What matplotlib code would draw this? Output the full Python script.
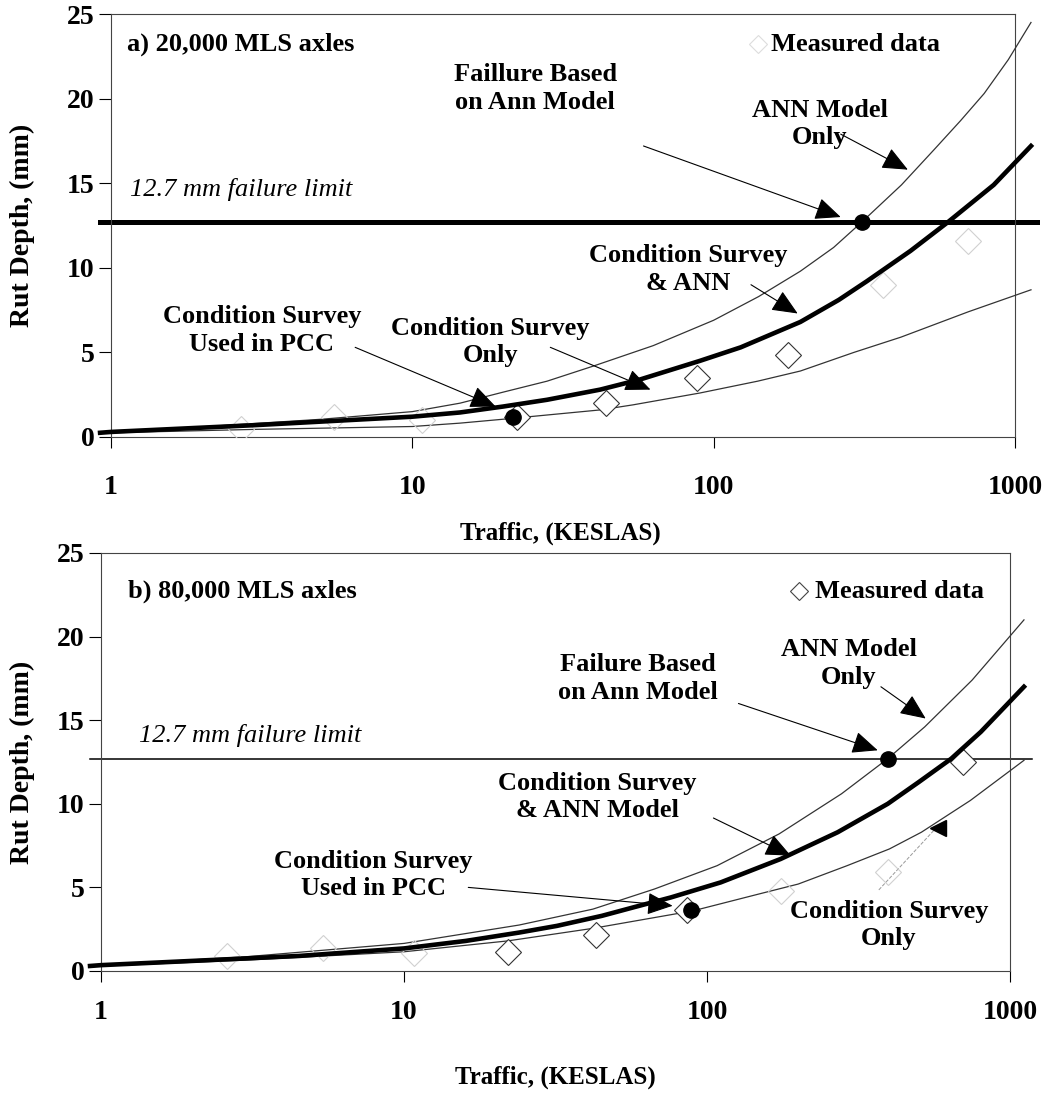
import numpy as np
from matplotlib import pyplot as plt

plt.rcParams['font.family'] = ['Liberation Serif', 'DejaVu Serif']
plt.rcParams['font.weight'] = 'bold'

ticks_x = [1, 10, 100, 1000]
ticks_y = [0, 5, 10, 15, 20, 25]
limit = 12.7

# ---- a) 20,000 MLS axles ----
a_ann_x = [0.92, 1, 2, 5, 10, 14.4, 20, 28, 40, 63, 100, 141, 194, 250, 310, 420, 540, 660, 790, 950, 1130]
a_ann_y = [0.28, 0.33, 0.6, 1.05, 1.5, 2.0, 2.65, 3.3, 4.2, 5.4, 6.9, 8.3, 9.8, 11.2, 12.7, 14.9, 17.0, 18.7, 20.3, 22.3, 24.5]
a_both_x = [0.92, 1, 3, 10, 14.4, 20, 28, 42, 57, 90, 123, 194, 260, 322, 450, 599, 850, 1130]
a_both_y = [0.25, 0.3, 0.7, 1.2, 1.45, 1.8, 2.2, 2.8, 3.4, 4.5, 5.3, 6.8, 8.1, 9.2, 11.0, 12.7, 14.9, 17.2]
a_cs_x = [0.92, 1, 3, 10, 14.4, 20, 28, 42, 54, 90, 140, 194, 292, 418, 700, 1130]
a_cs_y = [0.22, 0.25, 0.45, 0.62, 0.82, 1.05, 1.3, 1.6, 1.9, 2.6, 3.3, 3.9, 5.0, 5.9, 7.4, 8.7]
a_meas_x = [22.3, 44, 88, 176]
a_meas_y = [1.2, 2.0, 3.5, 4.85]
a_faint_x = [2.7, 5.5, 10.8, 365, 700]
a_faint_y = [0.5, 1.2, 1.0, 9.0, 11.6]
a_dots_x = [21.6, 310]
a_dots_y = [1.2, 12.7]

# ---- b) 80,000 MLS axles ----
b_ann_x = [0.92, 1, 3, 10, 24, 42, 67, 108, 173, 278, 395, 523, 750, 1112]
b_ann_y = [0.3, 0.35, 0.85, 1.65, 2.75, 3.7, 4.9, 6.3, 8.2, 10.6, 12.7, 14.6, 17.4, 21.0]
b_both_x = [0.92, 1, 4.5, 10, 16, 24, 32, 45, 57, 76, 111, 175, 270, 395, 500, 640, 801, 1112]
b_both_y = [0.3, 0.35, 0.9, 1.35, 1.8, 2.3, 2.7, 3.3, 3.8, 4.4, 5.3, 6.7, 8.3, 10.0, 11.3, 12.7, 14.3, 17.0]
b_cs_x = [0.92, 1, 3, 10, 22, 42, 90, 148, 200, 290, 400, 510, 740, 1112]
b_cs_y = [0.25, 0.3, 0.65, 1.15, 1.8, 2.55, 3.6, 4.6, 5.2, 6.3, 7.3, 8.3, 10.2, 12.6]
b_meas_x = [22, 43, 86, 700]
b_meas_y = [1.15, 2.15, 3.65, 12.5]
b_faint_x = [2.6, 5.4, 10.8, 175, 395]
b_faint_y = [0.9, 1.4, 1.1, 4.8, 5.9]
b_dots_x = [88.3, 395]
b_dots_y = [3.65, 12.7]

# labels: text, centre (x, y), arrow start, arrow tip
a_notes = [
    ("Faillure Based\non Ann Model", (25.6, 20.6), (58.5, 17.2), (264, 13.0)),
    ("ANN Model\nOnly", (225, 18.5), (264, 17.9), (441, 15.8)),
    ("Condition Survey\n& ANN", (82.6, 9.9), (133, 9.0), (190, 7.3)),
    ("Condition Survey\nOnly", (18.2, 5.6), (28.7, 5.3), (61.7, 2.8)),
    ("Condition Survey\nUsed in PCC", (3.17, 6.3), (6.46, 5.3), (18.9, 1.8)),
]
b_notes = [
    ("Failure Based\non Ann Model", (59, 17.5), (127, 16.0), (366, 13.2)),
    ("ANN Model\nOnly", (294, 18.4), (375, 17.0), (527, 15.1)),
    ("Condition Survey\n& ANN Model", (43.5, 10.4), (105, 9.15), (189, 6.9)),
    ("Condition Survey\nUsed in PCC", (7.92, 5.75), (16.3, 5.0), (77, 3.9)),
]
b_cs_note = ("Condition Survey\nOnly", (398, 2.75), (369, 4.85), (560, 8.4))

W, H = 1046, 1099
fig = plt.figure(figsize=(W / 100, H / 100), dpi=100)
ax1 = fig.add_axes([111 / W, 1 - 437 / H, 904 / W, 423 / H])
ax2 = fig.add_axes([101 / W, 1 - 971 / H, 909 / W, 418 / H])

FS = 18
arrow = dict(arrowstyle='-|>,head_length=0.8,head_width=0.35', lw=0.8,
             color='black', mutation_scale=20, shrinkA=0, shrinkB=0)


def setup(ax, limit_lw, tick_pad):
    ax.set_xscale('log')
    ax.set_xlim(1, 1000)
    ax.set_ylim(0, 25)
    ax.set_xticks(ticks_x)
    ax.set_xticklabels([str(t) for t in ticks_x])
    ax.set_yticks(ticks_y)
    ax.minorticks_off()
    ax.tick_params(axis='y', direction='out', length=9, width=0.8, pad=3, labelsize=FS + 2)
    ax.tick_params(axis='x', direction='out', length=8, width=0.8, pad=tick_pad, labelsize=FS + 2)
    for s in ax.spines.values():
        s.set_linewidth(0.8)
        s.set_color('#444444')
    ax.plot([0.92, 1180], [limit, limit], color='black', lw=limit_lw, clip_on=False, zorder=2)


def curves(ax, ann_x, ann_y, both_x, both_y, cs_x, cs_y):
    ax.plot(ann_x, ann_y, color='#333333', lw=0.9, clip_on=False, zorder=3)
    ax.plot(cs_x, cs_y, color='#333333', lw=0.9, clip_on=False, zorder=3)
    ax.plot(both_x, both_y, color='black', lw=3.3, clip_on=False, zorder=4,
            solid_joinstyle='round')


def markers(ax, mx, my, fx, fy, dx, dy):
    ax.plot(fx, fy, 'D', ms=13, mfc='none', mec='#d0d0d0', mew=0.8, zorder=3)
    ax.plot(mx, my, 'D', ms=13, mfc='white', mec='#333333', mew=0.8, zorder=3)
    ax.plot(dx, dy, 'o', ms=11, color='black', zorder=6)


def notes(ax, items):
    for txt, pos, start, tip in items:
        ax.text(pos[0], pos[1], txt, ha='center', va='center', fontsize=FS + 1,
                linespacing=1.25, zorder=7)
        ax.annotate('', xy=tip, xytext=start, arrowprops=arrow, zorder=6)


# top panel
setup(ax1, 3.6, 19)
curves(ax1, a_ann_x, a_ann_y, a_both_x, a_both_y, a_cs_x, a_cs_y)
markers(ax1, a_meas_x, a_meas_y, a_faint_x, a_faint_y, a_dots_x, a_dots_y)
notes(ax1, a_notes)
ax1.text(1.13, 23.2, "a) 20,000 MLS axles", ha='left', va='center', fontsize=FS + 1)
ax1.plot([140], [23.2], 'D', ms=9, mfc='none', mec='#dddddd', mew=0.8)
ax1.text(155, 23.2, "Measured data", ha='left', va='center', fontsize=FS + 1)
ax1.text(1.16, 14.6, "12.7 mm failure limit", ha='left', va='center',
         fontsize=FS + 1, style='italic', weight='normal')

# bottom panel
setup(ax2, 1.1, 13)
curves(ax2, b_ann_x, b_ann_y, b_both_x, b_both_y, b_cs_x, b_cs_y)
markers(ax2, b_meas_x, b_meas_y, b_faint_x, b_faint_y, b_dots_x, b_dots_y)
notes(ax2, b_notes)
txt, pos, start, tip = b_cs_note
ax2.text(pos[0], pos[1], txt, ha='center', va='center', fontsize=FS + 1, linespacing=1.25)
ax2.plot([start[0], tip[0]], [start[1], tip[1]], color='#999999', lw=0.7, ls='--')
ax2.plot([tip[0] * 1.03], [tip[1] + 0.15], '<', ms=12, color='black', zorder=6)
ax2.text(1.23, 22.7, "b) 80,000 MLS axles", ha='left', va='center', fontsize=FS + 1)
ax2.plot([201], [22.7], 'D', ms=9, mfc='white', mec='#444444', mew=0.8)
ax2.text(228, 22.7, "Measured data", ha='left', va='center', fontsize=FS + 1)
ax2.text(1.33, 14.1, "12.7 mm failure limit", ha='left', va='center',
         fontsize=FS + 1, style='italic', weight='normal')

# axis titles
for yc in [225, 762]:
    fig.text(22 / W, 1 - yc / H, "Rut Depth, (mm)", rotation=90, ha='center',
             va='center', fontsize=FS + 2)
fig.text(560 / W, 1 - 533 / H, "Traffic, (KESLAS)", ha='center', va='center', fontsize=FS)
fig.text(555 / W, 1 - 1077 / H, "Traffic, (KESLAS)", ha='center', va='center', fontsize=FS)

fig.savefig('out.png', dpi=100)
